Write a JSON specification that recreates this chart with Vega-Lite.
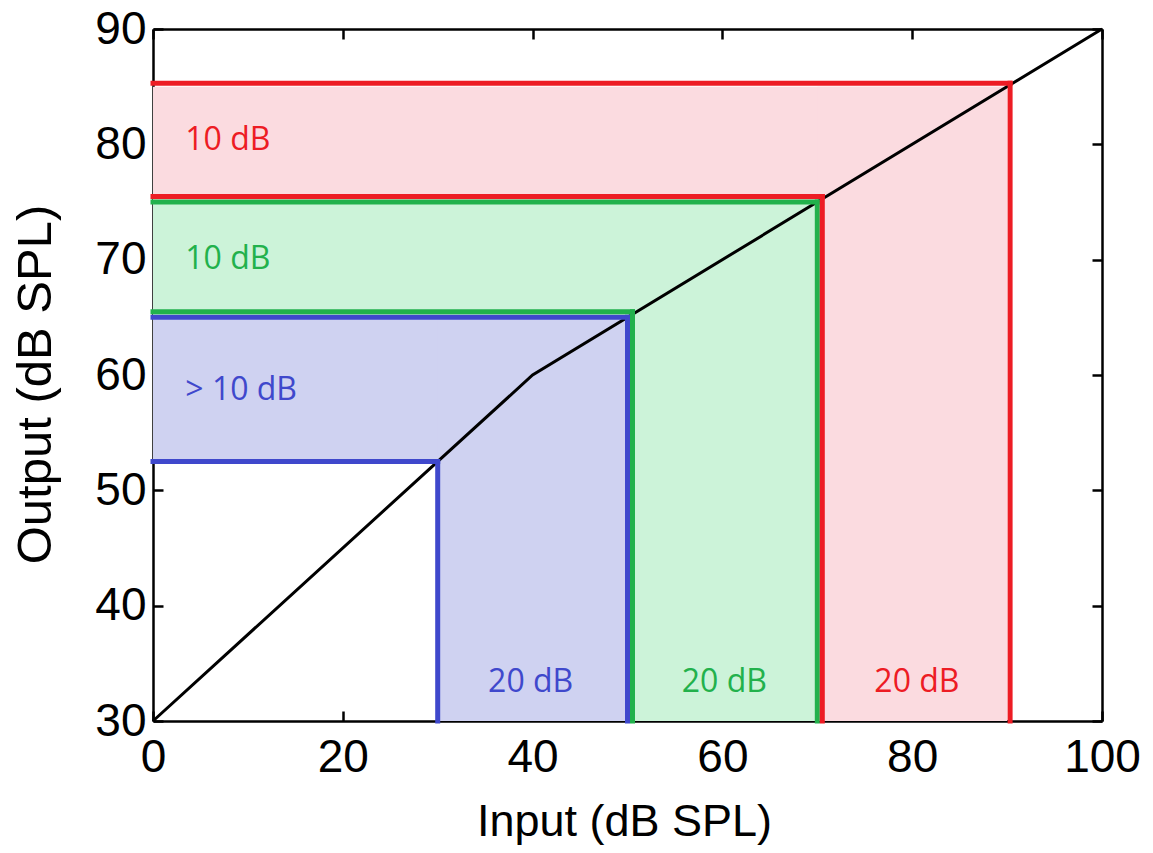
{
  "$schema": "https://vega.github.io/schema/vega-lite/v6.json",
  "autosize": "none",
  "width": 949,
  "height": 692,
  "padding": {"left": 153, "top": 29, "right": 51, "bottom": 132},
  "background": "white",
  "config": {
    "view": {"stroke": null},
    "axis": {
      "grid": false,
      "zindex": 1,
      "domainColor": "black",
      "domainWidth": 2.5,
      "tickColor": "black",
      "tickWidth": 2.5,
      "tickSize": -10,
      "labelFont": "Liberation Sans",
      "labelColor": "black",
      "labelFontSize": 46,
      "labelFlush": false,
      "labelOverlap": false,
      "labelBound": false,
      "titleFont": "Liberation Sans",
      "titleFontWeight": "normal",
      "titleColor": "black"
    }
  },
  "datasets": {
    "regions": [
      {"band": "high", "x0": 0, "x1": 90, "y0": 75, "y1": 85},
      {"band": "high", "x0": 70, "x1": 90, "y0": 30, "y1": 85},
      {"band": "mid", "x0": 0, "x1": 70, "y0": 65, "y1": 75},
      {"band": "mid", "x0": 50, "x1": 70, "y0": 30, "y1": 75},
      {"band": "low", "x0": 0, "x1": 50, "y0": 52.5, "y1": 65},
      {"band": "low", "x0": 30, "x1": 50, "y0": 30, "y1": 65}
    ],
    "curve": [
      {"input": 0, "output": 30},
      {"input": 40, "output": 60},
      {"input": 100, "output": 90}
    ],
    "edges": [
      {"band": "low", "edge": "inner", "orient": "h", "at": 52.5, "from": 0, "to": 30},
      {"band": "low", "edge": "inner", "orient": "v", "at": 30, "from": 30, "to": 52.5},
      {"band": "low", "edge": "outer", "orient": "h", "at": 65, "from": 0, "to": 50},
      {"band": "low", "edge": "outer", "orient": "v", "at": 50, "from": 30, "to": 65},
      {"band": "mid", "edge": "inner", "orient": "h", "at": 65, "from": 0, "to": 50},
      {"band": "mid", "edge": "inner", "orient": "v", "at": 50, "from": 30, "to": 65},
      {"band": "mid", "edge": "outer", "orient": "h", "at": 75, "from": 0, "to": 70},
      {"band": "mid", "edge": "outer", "orient": "v", "at": 70, "from": 30, "to": 75},
      {"band": "high", "edge": "inner", "orient": "h", "at": 75, "from": 0, "to": 70},
      {"band": "high", "edge": "inner", "orient": "v", "at": 70, "from": 30, "to": 75},
      {"band": "high", "edge": "outer", "orient": "h", "at": 85, "from": 0, "to": 90},
      {"band": "high", "edge": "outer", "orient": "v", "at": 90, "from": 30, "to": 85}
    ],
    "outputLabels": [
      {"band": "high", "input": 3.4, "output": 79.5, "label": "10 dB"},
      {"band": "mid", "input": 3.4, "output": 69.2, "label": "10 dB"},
      {"band": "low", "input": 3.4, "output": 57.85, "label": "> 10 dB"}
    ],
    "inputLabels": [
      {"band": "low", "input": 39.8, "output": 32.5, "label": "20 dB"},
      {"band": "mid", "input": 60.2, "output": 32.5, "label": "20 dB"},
      {"band": "high", "input": 80.5, "output": 32.5, "label": "20 dB"}
    ]
  },
  "resolve": {"axis": {"x": "independent", "y": "independent"}},
  "layer": [
    {
      "data": {"name": "regions"},
      "mark": {"type": "rect"},
      "encoding": {
        "x": {
          "field": "x0", "type": "quantitative",
          "scale": {"domain": [0, 100], "nice": false, "zero": false},
          "axis": {
            "orient": "bottom",
            "values": [0, 20, 40, 60, 80, 100],
            "labelPadding": 24,
            "title": "Input (dB SPL)",
            "titleFontSize": 45,
            "titleBaseline": "alphabetic",
            "titleAnchor": "middle",
            "titleX": 471,
            "titleY": 114
          }
        },
        "x2": {"field": "x1"},
        "y": {
          "field": "y0", "type": "quantitative",
          "scale": {"domain": [30, 90], "nice": false, "zero": false},
          "axis": {
            "orient": "left",
            "values": [30, 40, 50, 60, 70, 80, 90],
            "labelPadding": 17,
            "title": "Output (dB SPL)",
            "titleFontSize": 49,
            "titleAngle": 270,
            "titleBaseline": "alphabetic",
            "titleAlign": "center",
            "titleX": -103,
            "titleY": 355
          }
        },
        "y2": {"field": "y1"},
        "fill": {
          "field": "band", "type": "nominal",
          "scale": {"domain": ["low", "mid", "high"], "range": ["#cfd2f1", "#ccf3d9", "#fbdbe0"]},
          "legend": null
        }
      }
    },
    {
      "data": {"name": "curve"},
      "mark": {"type": "line", "color": "black", "strokeWidth": 3},
      "encoding": {
        "x": {
          "field": "input", "type": "quantitative",
          "axis": {"orient": "top", "values": [0, 20, 40, 60, 80, 100], "labels": false, "title": null}
        },
        "y": {
          "field": "output", "type": "quantitative",
          "axis": {"orient": "right", "values": [30, 40, 50, 60, 70, 80, 90], "labels": false, "title": null}
        }
      }
    },
    {
      "data": {"name": "edges"},
      "transform": [{"filter": "datum.orient == 'h' && (datum.band == 'low' || (datum.band == 'mid' && datum.edge == 'outer'))"}],
      "mark": {"type": "rule", "strokeWidth": 5, "strokeCap": "square"},
      "encoding": {
        "y": {"field": "at", "type": "quantitative", "axis": null},
        "x": {"field": "from", "type": "quantitative", "axis": null},
        "x2": {"field": "to"},
        "color": {"field": "band", "type": "nominal", "scale": {"domain": ["low", "mid", "high"], "range": ["#3f48cc", "#22b14c", "#ed1c24"]}, "legend": null}
      }
    },
    {
      "data": {"name": "edges"},
      "transform": [{"filter": "datum.orient == 'v' && (datum.band == 'low' || (datum.band == 'mid' && datum.edge == 'outer'))"}],
      "mark": {"type": "rule", "strokeWidth": 5, "strokeCap": "square"},
      "encoding": {
        "x": {"field": "at", "type": "quantitative", "axis": null},
        "y": {"field": "from", "type": "quantitative", "axis": null},
        "y2": {"field": "to"},
        "color": {"field": "band", "type": "nominal", "legend": null}
      }
    },
    {
      "data": {"name": "edges"},
      "transform": [{"filter": "datum.orient == 'h' && datum.edge == 'inner' && datum.band != 'low'"}],
      "mark": {"type": "rule", "strokeWidth": 5, "strokeCap": "square", "yOffset": -5.5, "x2Offset": 5},
      "encoding": {
        "y": {"field": "at", "type": "quantitative", "axis": null},
        "x": {"field": "from", "type": "quantitative", "axis": null},
        "x2": {"field": "to"},
        "color": {"field": "band", "type": "nominal", "legend": null}
      }
    },
    {
      "data": {"name": "edges"},
      "transform": [{"filter": "datum.orient == 'v' && datum.edge == 'inner' && datum.band != 'low'"}],
      "mark": {"type": "rule", "strokeWidth": 5, "strokeCap": "square", "xOffset": 5, "y2Offset": -5.5},
      "encoding": {
        "x": {"field": "at", "type": "quantitative", "axis": null},
        "y": {"field": "from", "type": "quantitative", "axis": null},
        "y2": {"field": "to"},
        "color": {"field": "band", "type": "nominal", "legend": null}
      }
    },
    {
      "data": {"name": "edges"},
      "transform": [{"filter": "datum.orient == 'h' && datum.edge == 'outer' && datum.band == 'high'"}],
      "mark": {"type": "rule", "strokeWidth": 5, "strokeCap": "square", "yOffset": -3.3, "x2Offset": 3},
      "encoding": {
        "y": {"field": "at", "type": "quantitative", "axis": null},
        "x": {"field": "from", "type": "quantitative", "axis": null},
        "x2": {"field": "to"},
        "color": {"field": "band", "type": "nominal", "legend": null}
      }
    },
    {
      "data": {"name": "edges"},
      "transform": [{"filter": "datum.orient == 'v' && datum.edge == 'outer' && datum.band == 'high'"}],
      "mark": {"type": "rule", "strokeWidth": 5, "strokeCap": "square", "xOffset": 3, "y2Offset": -3.3},
      "encoding": {
        "x": {"field": "at", "type": "quantitative", "axis": null},
        "y": {"field": "from", "type": "quantitative", "axis": null},
        "y2": {"field": "to"},
        "color": {"field": "band", "type": "nominal", "legend": null}
      }
    },
    {
      "data": {"name": "outputLabels"},
      "mark": {"type": "text", "font": "Open Sans", "fontSize": 32, "align": "left", "baseline": "alphabetic"},
      "encoding": {
        "x": {"field": "input", "type": "quantitative", "axis": null},
        "y": {"field": "output", "type": "quantitative", "axis": null},
        "text": {"field": "label"},
        "color": {"field": "band", "type": "nominal", "legend": null}
      }
    },
    {
      "data": {"name": "inputLabels"},
      "mark": {"type": "text", "font": "Open Sans", "fontSize": 32, "align": "center", "baseline": "alphabetic"},
      "encoding": {
        "x": {"field": "input", "type": "quantitative", "axis": null},
        "y": {"field": "output", "type": "quantitative", "axis": null},
        "text": {"field": "label"},
        "color": {"field": "band", "type": "nominal", "legend": null}
      }
    }
  ]
}
